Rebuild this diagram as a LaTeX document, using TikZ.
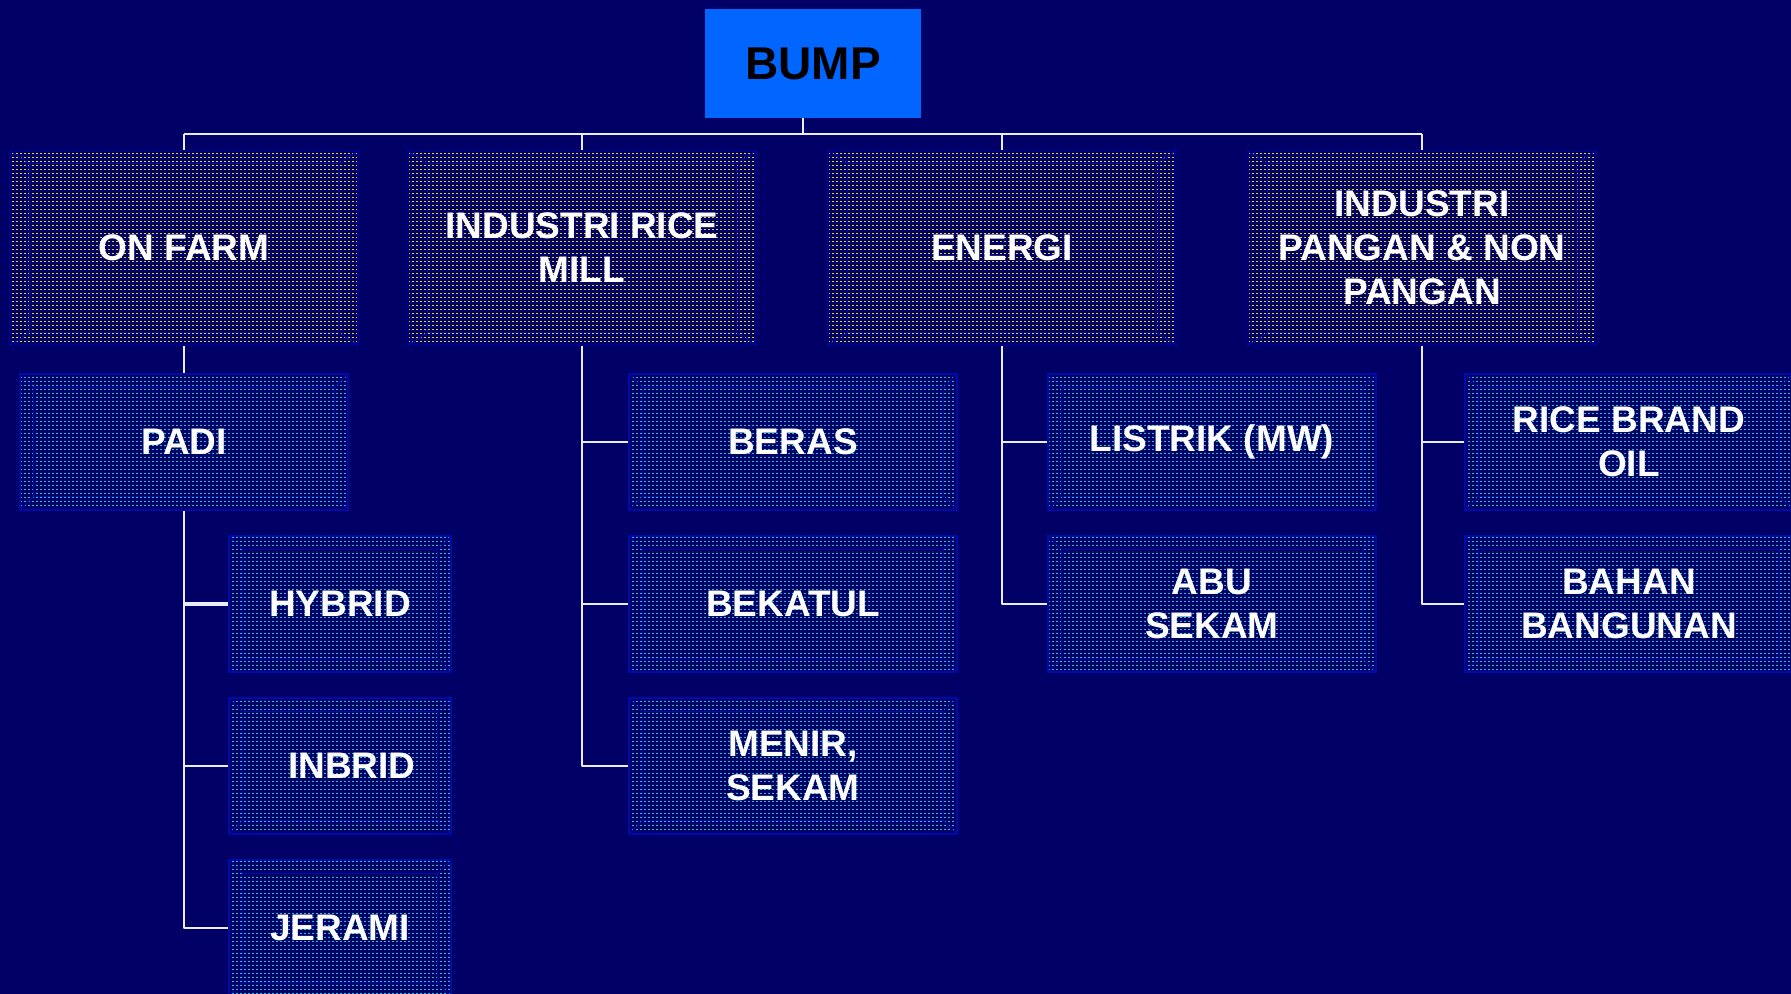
\documentclass[tikz,border=0pt]{standalone}
\usepackage{fontspec}
\setmainfont{Liberation Sans}
\usetikzlibrary{patterns}
\definecolor{bgnavy}{RGB}{0,0,102}
\definecolor{bumpblue}{RGB}{0,102,255}
\definecolor{rimblue}{RGB}{0,10,170}
\definecolor{dotyellow}{RGB}{225,215,40}
\definecolor{dotcyan}{RGB}{20,200,210}
\pgfdeclarepatternformonly{fine dots}{\pgfpoint{-0.1pt}{-0.1pt}}{\pgfpoint{2.1pt}{2.1pt}}{\pgfpoint{2pt}{2pt}}%
  {\pgfpathrectangle{\pgfpointorigin}{\pgfpoint{1pt}{0.6pt}}\pgfusepath{fill}}
\tikzset{
  box/.style={draw=rimblue, line width=0.6pt, pattern=fine dots, text=white, align=center, inner sep=0pt,
    font=\fontsize{18.5}{22}\selectfont\bfseries},
  topbox/.style={box, draw=bgnavy!80!blue, pattern color=dotyellow, minimum width=174pt, minimum height=97pt},
  subbox/.style={box, pattern color=dotcyan, minimum width=164pt, minimum height=68pt},
  leafbox/.style={subbox, minimum width=111pt},
  link/.style={draw=white!92!blue, line width=1pt},
  bevelline/.style={draw=rimblue, line width=0.5pt}
}
% inner bevel of a box: node name, horizontal and vertical inset
\newcommand\bevel[3]{%
  \draw [bevelline] ([shift={(#2,#3)}]#1.north west) rectangle ([shift={(-#2,-#3)}]#1.south east);
  \draw [bevelline] (#1.north west) -- ([shift={(#2,#3)}]#1.north west)
    (#1.north east) -- ([shift={(-#2,#3)}]#1.north east)
    (#1.south west) -- ([shift={(#2,-#3)}]#1.south west)
    (#1.south east) -- ([shift={(-#2,-#3)}]#1.south east);}
\begin{document}
\begin{tikzpicture}[x=0.5pt, y=-0.5pt, line join=round]
  \fill [bgnavy] (0,0) rectangle (1791,994);
  \useasboundingbox (0,0) rectangle (1791,994);
  \def\rowA{248}
  \def\rowB{442}
  \def\rowC{604}
  \def\rowD{766}
  \def\rowE{928}
  % head
  \node [fill=bumpblue, minimum width=108pt, minimum height=54.5pt, inner sep=0pt,
    font=\fontsize{23}{26}\selectfont\bfseries] (bump) at (813,63.5) {BUMP};
  % first level
  \node [topbox] (onfarm) at (184,\rowA) {ON FARM};
  \node [topbox] (ricemill) at (582,\rowA) {INDUSTRI RICE\\MILL};
  \node [topbox] (energi) at (1002,\rowA) {ENERGI};
  \node [topbox] (pangan) at (1422,\rowA) {INDUSTRI\\PANGAN \& NON\\PANGAN};
  % second level
  \node [subbox] (padi) at (184,\rowB) {PADI};
  \node [leafbox] (hybrid) at (340,\rowC) {HYBRID};
  \node [leafbox] (inbrid) at (340,\rowD) {\hspace{12pt}INBRID};
  \node [leafbox] (jerami) at (340,\rowE) {JERAMI};
  \node [subbox] (beras) at (793,\rowB) {BERAS};
  \node [subbox] (bekatul) at (793,\rowC) {BEKATUL};
  \node [subbox] (menir) at (793,\rowD) {MENIR,\\SEKAM};
  \node [subbox] (listrik) at (1212,\rowB) {LISTRIK (MW)};
  \node [subbox] (abu) at (1212,\rowC) {ABU\\SEKAM};
  \node [subbox] (ricebrand) at (1629,\rowB) {RICE BRAND\\OIL};
  \node [subbox] (bahan) at (1629,\rowC) {BAHAN\\BANGUNAN};
  \foreach \n in {onfarm, ricemill, energi, pangan} {\bevel{\n}{20}{13}}
  \foreach \n in {padi, hybrid, inbrid, jerami, beras, bekatul, menir, listrik, abu, ricebrand, bahan} {\bevel{\n}{14}{14}}
  % connectors
  \coordinate (bus) at (803,134);
  \draw [link] ([xshift=-5pt]bump.south) -- (bus);
  \draw [link] (onfarm.north |- bus) -- (pangan.north |- bus);
  \foreach \n in {onfarm, ricemill, energi, pangan} {\draw [link] (\n.north |- bus) -- (\n.north);}
  \draw [link] (onfarm) -- (padi);
  \draw [link] (padi.south) |- (jerami.west);
  \draw [link, line width=2pt] (padi.south |- hybrid) -- (hybrid.west);
  \draw [link] (padi.south |- inbrid) -- (inbrid.west);
  \draw [link] (ricemill.south) |- (menir.west);
  \draw [link] (ricemill.south |- beras) -- (beras.west);
  \draw [link] (ricemill.south |- bekatul) -- (bekatul.west);
  \draw [link] (energi.south) |- (abu.west);
  \draw [link] (energi.south |- listrik) -- (listrik.west);
  \draw [link] (pangan.south) |- (bahan.west);
  \draw [link] (pangan.south |- ricebrand) -- (ricebrand.west);
\end{tikzpicture}
\end{document}
